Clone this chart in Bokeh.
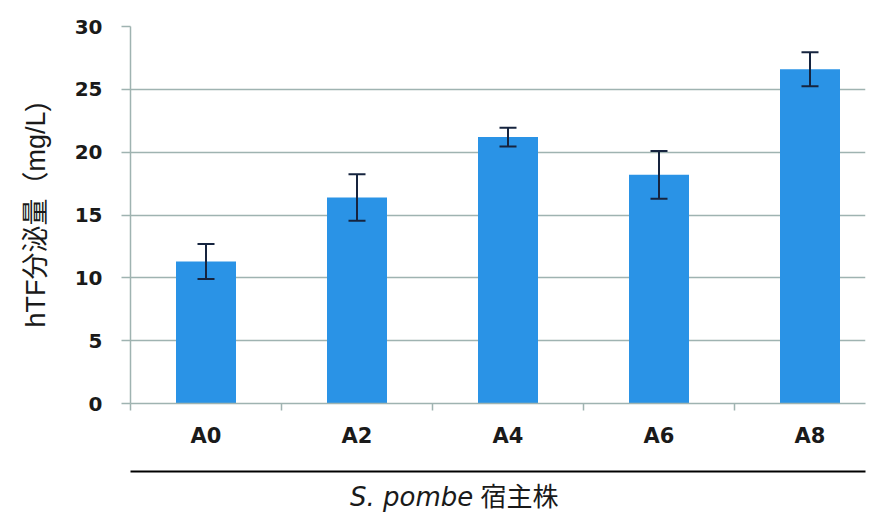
from bokeh.plotting import figure
from bokeh.layouts import column
from bokeh.models import (Range1d, FixedTicker, LinearAxis, ColumnDataSource,
                          Whisker, TeeHead, Div)
from bokeh.embed import file_html
from bokeh.resources import INLINE

# ---- data ----
categories = ["A0", "A2", "A4", "A6", "A8"]
values = [11.3, 16.4, 21.2, 18.2, 26.6]
errors = [1.4, 1.85, 0.75, 1.9, 1.35]
y_ticks = [0, 5, 10, 15, 20, 25, 30]
y_label = "hTF分泌量（mg/L)"
x_title_italic = "S. pombe"
x_title_cjk = "宿主株"

idx = list(range(len(categories)))
src = ColumnDataSource(dict(
    x=idx, top=values,
    upper=[v + e for v, e in zip(values, errors)],
    lower=[v - e for v, e in zip(values, errors)],
))

GRID = "#9fb3b1"
BAR = "#2a93e6"
ERR = "#16243f"
TXT = "#1a1a1a"

p = figure(width=885, height=480, output_backend="svg", toolbar_location=None,
           x_range=Range1d(-0.5, -0.5 + 735 / 151), y_range=Range1d(0, 30),
           min_border_left=130, min_border_right=20, min_border_top=26,
           min_border_bottom=77, x_axis_type=None)
p.outline_line_color = None
p.background_fill_color = "white"

p.vbar(x="x", top="top", width=60 / 151, source=src, fill_color=BAR, line_color=None)

w = Whisker(base="x", upper="upper", lower="lower", source=src,
            line_color=ERR, line_width=2, level="overlay",
            upper_head=TeeHead(size=17, line_color=ERR, line_width=2),
            lower_head=TeeHead(size=17, line_color=ERR, line_width=2))
p.add_layout(w)

# y axis
ya = p.yaxis[0]
ya.ticker = FixedTicker(ticks=y_ticks)
ya.axis_line_color = GRID
ya.axis_line_width = 1.5
ya.major_tick_line_color = GRID
ya.major_tick_line_width = 1.5
ya.major_tick_out = 9
ya.major_tick_in = 0
ya.minor_tick_line_color = None
ya.major_label_text_font = "DejaVu Sans"
ya.major_label_text_font_style = "bold"
ya.major_label_text_font_size = "20px"
ya.major_label_text_color = TXT
ya.major_label_standoff = 19
ya.axis_label = y_label
ya.axis_label_text_font = "Liberation Sans, Noto Sans CJK JP"
ya.axis_label_text_font_style = "normal"
ya.axis_label_text_font_size = "27px"
ya.axis_label_text_color = TXT
ya.axis_label_standoff = 21

p.ygrid.ticker = FixedTicker(ticks=y_ticks)
p.ygrid.grid_line_color = GRID
p.ygrid.grid_line_width = 1.5
p.xgrid.grid_line_color = None

# x axis (category labels at centers, tick marks at boundaries)
xa = LinearAxis(ticker=FixedTicker(ticks=idx,
                                   minor_ticks=[i - 0.5 for i in idx]))
xa.major_label_overrides = {i: c for i, c in zip(idx, categories)}
xa.axis_line_color = GRID
xa.axis_line_width = 1.5
xa.major_tick_line_color = None
xa.major_tick_out = 0
xa.major_tick_in = 0
xa.minor_tick_line_color = GRID
xa.minor_tick_line_width = 1.5
xa.minor_tick_out = 7
xa.minor_tick_in = 0
xa.major_label_text_font = "DejaVu Sans"
xa.major_label_text_font_style = "bold"
xa.major_label_text_font_size = "21px"
xa.major_label_text_color = TXT
xa.major_label_standoff = 13
xa.axis_label = " "
xa.axis_label_text_font_size = "12px"
xa.axis_label_standoff = 4
p.add_layout(xa, "below")

# second axis: black rule under the category labels
xa2 = LinearAxis(ticker=FixedTicker(ticks=[]))
xa2.axis_line_color = "black"
xa2.axis_line_width = 2
xa2.major_tick_line_color = None
xa2.minor_tick_line_color = None
xa2.major_label_text_font_size = "0px"
p.add_layout(xa2, "below")

# bottom title (mixed italic / CJK text)
title = Div(
    text=(f'<span style="font-style:italic;font-family:\'DejaVu Sans\'">{x_title_italic}</span>'
          f' <span style="font-family:\'Noto Sans CJK JP\'">{x_title_cjk}</span>'),
    width=885, height=40,
    styles={"padding-left": "350px", "font-size": "26px", "line-height": "30px",
            "color": TXT, "margin": "0px"})

layout = column(p, title, spacing=0)
open("out.html", "w").write(file_html(layout, INLINE))
